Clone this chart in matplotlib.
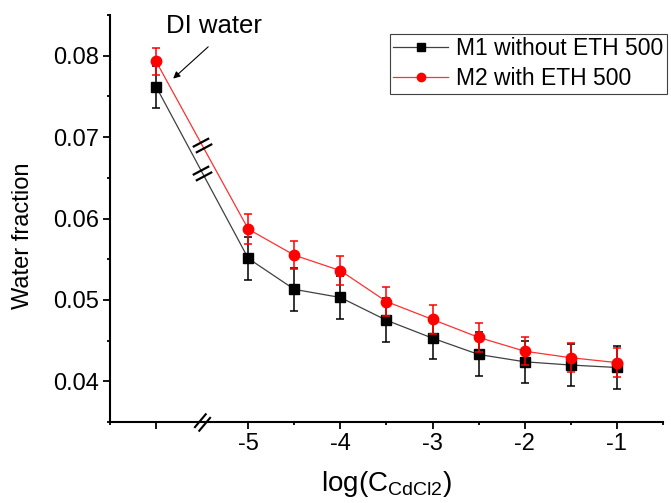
import matplotlib

matplotlib.use("Agg")

import matplotlib.pyplot as plt
import numpy as np
from matplotlib.path import Path

plt.rcParams["font.family"] = ["Liberation Sans", "DejaVu Sans"]
plt.rcParams["axes.unicode_minus"] = False
plt.rcParams["mathtext.default"] = "regular"

# log concentration; -6 stands for DI water (axis is broken at -5.5)
log_c = [-6.0, -5.0, -4.5, -4.0, -3.5, -3.0, -2.5, -2.0, -1.5, -1.0]

m1_frac = [0.0762, 0.0551, 0.0513, 0.0503, 0.0475, 0.0453, 0.0433, 0.0424, 0.0420, 0.0417]
m1_err = [0.0026, 0.0026, 0.0026, 0.0027, 0.0027, 0.0026, 0.0027, 0.0026, 0.0026, 0.0027]

m2_frac = [0.0793, 0.0587, 0.0555, 0.0536, 0.0498, 0.0476, 0.0454, 0.0437, 0.0429, 0.0423]
m2_err = [0.0017, 0.0018, 0.0017, 0.0018, 0.0018, 0.0018, 0.0018, 0.0017, 0.0018, 0.0018]

x_major = [-6, -5, -4, -3, -2, -1]
x_labels = ["", "-5", "-4", "-3", "-2", "-1"]
x_minor = [-6.5, -4.5, -3.5, -2.5, -1.5, -0.5]
y_major = [0.04, 0.05, 0.06, 0.07, 0.08]
y_minor = [0.035, 0.045, 0.055, 0.065, 0.075, 0.085]
break_x = -5.5


def slash_marker(angle_deg, sep):
    """Two parallel short strokes, tilted by angle_deg, offset by sep."""
    a = np.deg2rad(angle_deg)
    p = np.array([np.cos(a), np.sin(a)])
    n = np.array([-np.sin(a), np.cos(a)])
    verts = []
    for c in (n * sep, -n * sep):
        verts += [c - p, c + p]
    codes = [Path.MOVETO, Path.LINETO, Path.MOVETO, Path.LINETO]
    return Path(verts, codes)


fig = plt.figure(figsize=(6.71, 5.03), dpi=100)
ax = fig.add_axes([0.164, 0.161, 0.824, 0.809])

# error bars first, then line + symbols on top
ax.errorbar(log_c, m1_frac, yerr=m1_err, fmt="none", ecolor="black",
            elinewidth=1.1, capsize=3, capthick=1.1, zorder=3)
ax.errorbar(log_c, m2_frac, yerr=m2_err, fmt="none", ecolor="red",
            elinewidth=1.1, capsize=3, capthick=1.1, zorder=4)
ax.plot(log_c, m1_frac, color="#404040", lw=0.9, marker="s", ms=6.5,
        mfc="black", mec="black", label="M1 without ETH 500", zorder=3.5)
ax.plot(log_c, m2_frac, color="#ff3030", lw=0.9, marker="o", ms=7.5,
        mfc="red", mec="red", label="M2 with ETH 500", zorder=4.5)

# break marks on the two curves and on the x axis
line_break = slash_marker(28, 0.35)
for ys in (m1_frac, m2_frac):
    yb = np.interp(break_x, log_c[:2], ys[:2])
    ax.plot([break_x], [yb], linestyle="none", marker=line_break, ms=14,
            mec="black", mfc="none", mew=1.6, zorder=5)
ax.plot([break_x], [0.035], linestyle="none", marker=slash_marker(50, 0.3),
        ms=13, mec="black", mfc="none", mew=1.5, clip_on=False, zorder=5)

ax.annotate("", xy=(-5.815, 0.0772), xytext=(-5.435, 0.0811),
            arrowprops=dict(arrowstyle="-|>", color="black", lw=0.8,
                            mutation_scale=10, shrinkA=0, shrinkB=0))
ax.text(-5.37, 0.0836, "DI water", fontsize=18.5, ha="center", va="center")

ax.set_xlim(-6.5, -0.5)
ax.set_ylim(0.035, 0.085)
ax.set_xticks(x_major)
ax.set_xticklabels(x_labels)
ax.set_xticks(x_minor, minor=True)
ax.set_yticks(y_major)
ax.set_yticks(y_minor, minor=True)

ax.spines["top"].set_visible(False)
ax.spines["right"].set_visible(False)
for side in ("left", "bottom"):
    ax.spines[side].set_linewidth(1.5)
ax.tick_params(which="major", direction="out", length=5, width=1.3,
               labelsize=17, pad=3)
ax.tick_params(which="minor", direction="out", length=2.5, width=1.3)

ax.set_xlabel(r"log(C$_{CdCl2}$)", fontsize=20, labelpad=10)
ax.set_ylabel("Water fraction", fontsize=17)
ax.yaxis.set_label_coords(-0.137, 0.457)

leg = ax.legend(loc="upper right", bbox_to_anchor=(667 / 671, 1 - 34 / 503),
                bbox_transform=fig.transFigure, borderaxespad=0,
                fontsize=16.5, fancybox=False, framealpha=1,
                edgecolor="#404040", handlelength=2.4, handletextpad=0.35,
                labelspacing=0.3, borderpad=0.15)
leg.get_frame().set_linewidth(0.8)
for h in leg.legend_handles:
    h.set_markersize(6)

fig.savefig("out.png", dpi=100)
